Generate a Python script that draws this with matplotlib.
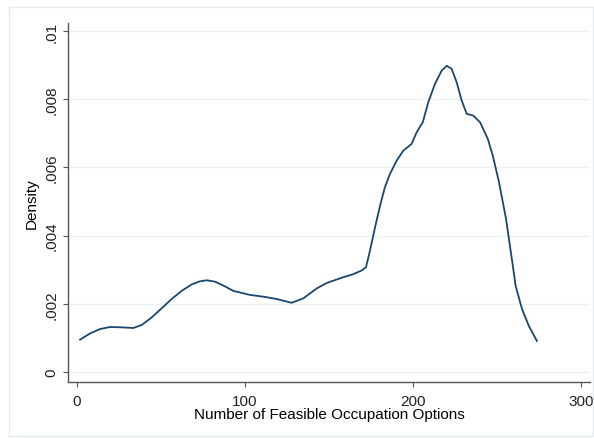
import matplotlib
matplotlib.use("Agg")
import matplotlib.pyplot as plt
from matplotlib.patches import Rectangle

# kernel density estimate
options = [1.8, 7.7, 13.7, 19.6, 26.6, 33.5, 38.5, 44.4, 50.4, 56.3, 62.3,
           68.3, 73.2, 77.2, 82.1, 88.1, 93.0, 103.0, 110.9, 118.9, 127.8,
           134.7, 142.7, 148.6, 158.5, 164.5, 169.5, 172.0, 174.4, 177.4,
           180.4, 183.3, 186.3, 190.3, 194.2, 199.2, 202.2, 205.8, 209.1,
           213.1, 217.1, 220.1, 223.0, 226.0, 229.0, 232.0, 235.9, 240.0,
           244.6, 247.6, 251.2, 255.4, 259.5, 261.1, 264.9, 269.0, 273.8]
density = [0.00095, 0.00113, 0.00126, 0.00132, 0.00131, 0.00129, 0.00138,
           0.00160, 0.00187, 0.00214, 0.00238, 0.00257, 0.00266, 0.00269,
           0.00265, 0.00251, 0.00238, 0.00226, 0.00221, 0.00214, 0.00203,
           0.00216, 0.00245, 0.00261, 0.00278, 0.00287, 0.00298, 0.00307,
           0.00356, 0.00424, 0.00488, 0.00542, 0.00581, 0.00620, 0.00649,
           0.00669, 0.00703, 0.00732, 0.00791, 0.00845, 0.00884, 0.00898,
           0.00889, 0.00850, 0.00796, 0.00757, 0.00752, 0.00732, 0.00683,
           0.00633, 0.00557, 0.00449, 0.00310, 0.00253, 0.00185, 0.00135,
           0.00091]

x_ticks = [0, 100, 200, 300]
y_ticks = [0, 0.002, 0.004, 0.006, 0.008, 0.01]
y_labels = ["0", ".002", ".004", ".006", ".008", ".01"]

plt.rcParams["font.family"] = ["Liberation Sans", "DejaVu Sans"]

fig = plt.figure(figsize=(5.94, 4.39), dpi=100)
fig.patches.append(Rectangle((9 / 594, 2 / 439), 584 / 594, 429 / 439,
                             transform=fig.transFigure, fill=False,
                             edgecolor="#e3ebed", lw=1.0))

ax = fig.add_axes([68 / 594, 1 - 383 / 439, 522 / 594, 359 / 439])
ax.plot(options, density, color="#1a476f", lw=1.3, solid_joinstyle="round")

ax.set_xlim(-5.4, 305.4)
ax.set_ylim(-0.000293, 0.010235)
ax.set_xticks(x_ticks)
ax.set_yticks(y_ticks)
ax.set_yticklabels(y_labels, rotation=90, va="center")
ax.tick_params(direction="out", length=3.6, color="#555555", labelsize=11,
               labelcolor="#222222")
ax.tick_params(axis="x", pad=5)
ax.tick_params(axis="y", pad=3)
ax.grid(axis="y", color="#eaf2f3", lw=1.0)
ax.set_axisbelow(True)

for side in ["top", "right"]:
    ax.spines[side].set_visible(False)
for side in ["left", "bottom"]:
    ax.spines[side].set_color("#555555")
    ax.spines[side].set_linewidth(1.0)

ax.set_xlabel("Number of Feasible Occupation Options", fontsize=11,
              labelpad=-1)
ax.set_ylabel("Density", fontsize=11)
ax.yaxis.set_label_coords(-0.056, 0.5)

fig.savefig("out.png", dpi=100)
